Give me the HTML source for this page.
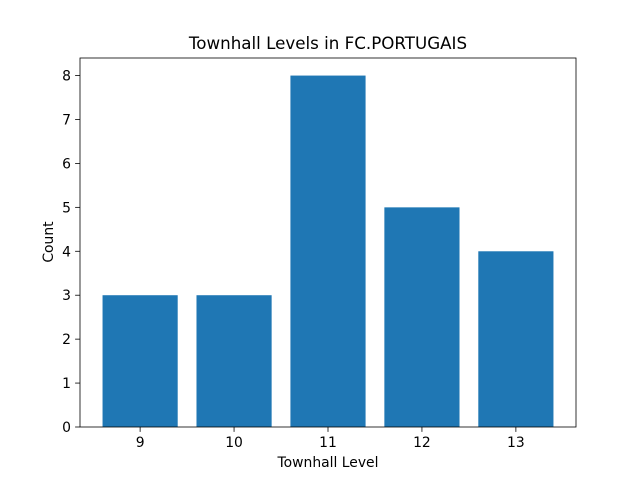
<!DOCTYPE html>
<html><head><meta charset="utf-8"><style>
body{margin:0;background:#fff;}
svg text{font-family:"DejaVu Sans","Liberation Sans",sans-serif;fill:#000;}
</style></head><body>
<svg id="chart" width="640" height="480" viewBox="0 0 640 480">
<rect width="640" height="480" fill="#fff"/>
<g id="bars"></g>
<g id="axes"></g>
<text x="328" y="49" text-anchor="middle" font-size="16.7">Townhall Levels in FC.PORTUGAIS</text>
<text x="328" y="467" text-anchor="middle" font-size="13.9">Townhall Level</text>
<text x="53" y="242" text-anchor="middle" font-size="13.9" transform="rotate(-90 53 242)">Count</text>
</svg>
<script>
const categories = [9, 10, 11, 12, 13];
const counts = [3, 3, 8, 5, 4];
const yTicks = [0, 1, 2, 3, 4, 5, 6, 7, 8];

const L = 80, R = 576, T = 58, B = 427;
const xmin = categories[0] - 0.4, xmax = categories[categories.length - 1] + 0.4;
const xpad = (xmax - xmin) * 0.05;
const x0 = xmin - xpad, x1 = xmax + xpad;
const ymax = Math.max(...counts) * 1.05;
const xs = v => L + (v - x0) / (x1 - x0) * (R - L);
const ys = v => B - v / ymax * (B - T);
const NS = 'http://www.w3.org/2000/svg';
const bars = document.getElementById('bars');
const axes = document.getElementById('axes');
function mk(tag, attrs, parent) {
  const e = document.createElementNS(NS, tag);
  for (const k in attrs) e.setAttribute(k, attrs[k]);
  parent.appendChild(e);
  return e;
}
categories.forEach((c, i) => {
  const r = mk('rect', {x: xs(c - 0.4), y: ys(counts[i]), width: xs(c + 0.4) - xs(c - 0.4), height: ys(0) - ys(counts[i]), fill: '#1f77b4'}, bars);
  
  
  const t = mk('line', {x1: xs(c), x2: xs(c), y1: B, y2: B + 4.9, stroke: '#000', 'stroke-width': 0.8}, axes);
  
  
  const lb = mk('text', {x: xs(c), y: B + 20, 'text-anchor': 'middle', 'font-size': 13.9}, axes);
  lb.textContent = c;
  
  
});
yTicks.forEach(v => {
  const t = mk('line', {x1: L - 4.9, x2: L, y1: ys(v), y2: ys(v), stroke: '#000', 'stroke-width': 0.8}, axes);
  
  
  const lb = mk('text', {x: L - 9, y: ys(v) + 5, 'text-anchor': 'end', 'font-size': 13.9}, axes);
  lb.textContent = v;
  
  
});
const f = mk('rect', {x: L, y: T, width: R - L, height: B - T, fill: 'none', stroke: '#000', 'stroke-width': 0.8}, axes);


</script>
</body></html>
